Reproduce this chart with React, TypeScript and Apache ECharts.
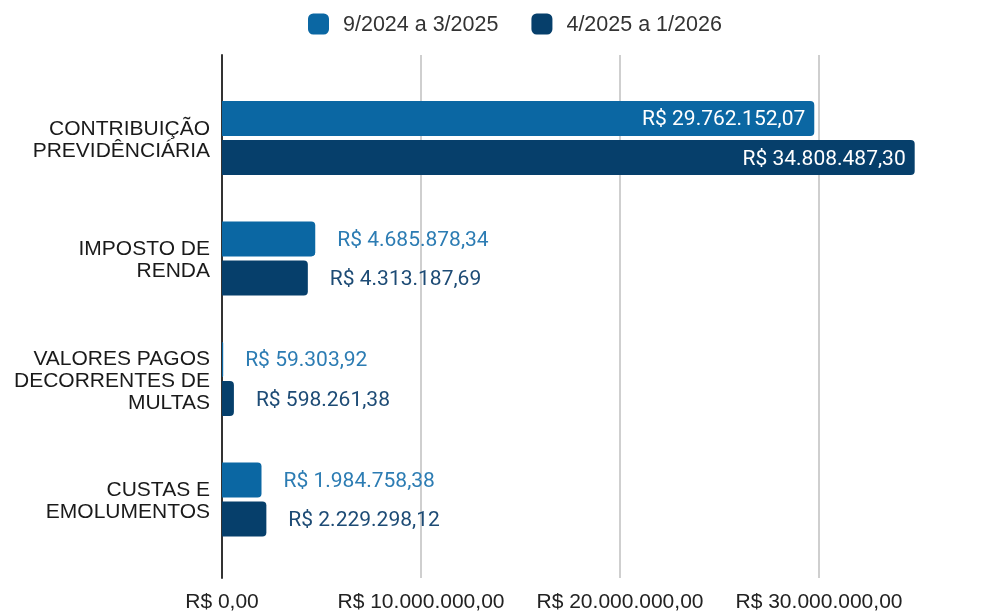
import React, { useEffect, useRef } from "react";
import * as echarts from "echarts";

const categories = [
  "CONTRIBUIÇÃO\nPREVIDÊNCIÁRIA",
  "IMPOSTO DE\nRENDA",
  "VALORES PAGOS\nDECORRENTES DE\nMULTAS",
  "CUSTAS E\nEMOLUMENTOS",
];
const seriesNames = ["9/2024 a 3/2025", "4/2025 a 1/2026"];
const period1 = [29762152.07, 4685878.34, 59303.92, 1984758.38];
const period2 = [34808487.3, 4313187.69, 598261.38, 2229298.12];
const axisMax = 40000000;
const axisInterval = 10000000;

function fmtBRL(v: number): string {
  const neg = v < 0;
  const fixed = Math.abs(v).toFixed(2);
  const [intPart, dec] = fixed.split(".");
  const withDots = intPart.replace(/\B(?=(\d{3})+(?!\d))/g, ".");
  return (neg ? "-" : "") + "R$ " + withDots + "," + dec;
}

const colors = ["#0b67a3", "#063f6b"];
const outsideLabelColors = ["#2c7cb3", "#1d4b75"];

export default function App() {
  const ref = useRef<HTMLDivElement>(null);
  useEffect(() => {
    if (!ref.current) return;
    const chart = echarts.init(ref.current, null, { renderer: "svg" });
    const makeData = (vals: number[], idx: number) =>
      vals.map((v) => {
        const inside = v > 10000000;
        return {
          value: v,
          label: inside
            ? {
                show: true,
                position: "insideRight",
                distance: 9,
                color: "#ffffff",
              }
            : {
                show: true,
                position: "right",
                distance: 22,
                color: outsideLabelColors[idx],
              },
        };
      });
    const sans = "'Liberation Sans', Arial, sans-serif";
    const labelStyle = {
      fontFamily: "Roboto, sans-serif",
      fontSize: 21,
      formatter: (p: any) => fmtBRL(p.value),
    };
    chart.setOption({
      animation: false,
      color: colors,
      legend: {
        left: 308,
        top: 13,
        padding: 0,
        itemWidth: 21,
        itemHeight: 21,
        itemGap: 33,
        icon: "roundRect",
        data: seriesNames,
        textStyle: {
          fontFamily: sans,
          fontSize: 21.5,
          color: "#333333",
          padding: [0, 0, 0, 9],
        },
      },
      grid: [
        { left: 222, right: 12, top: 77.75, bottom: 51.25, containLabel: false },
        { left: 222, right: 12, top: 55, bottom: 29, containLabel: false },
      ],
      xAxis: [
        {
          gridIndex: 0,
          type: "value",
          min: 0,
          max: axisMax,
          interval: axisInterval,
          axisLine: { show: false },
          axisTick: { show: false },
          axisLabel: { show: false },
          splitLine: { show: false },
        },
        {
          gridIndex: 1,
          type: "value",
          min: 0,
          max: axisMax,
          interval: axisInterval,
          axisLine: { show: false },
          axisTick: { show: false },
          axisLabel: {
            show: true,
            showMaxLabel: false,
            margin: 12,
            fontFamily: sans,
            fontSize: 21,
            color: "#222222",
            formatter: (v: number) => fmtBRL(v),
          },
          splitLine: { show: true, lineStyle: { color: "#cfcfcf", width: 2 } },
        },
      ],
      yAxis: [
        {
          gridIndex: 0,
          type: "category",
          inverse: true,
          data: categories,
          axisLine: { show: false },
          axisTick: { show: false },
          axisLabel: {
            margin: 12,
            fontFamily: sans,
            fontSize: 21,
            lineHeight: 22,
            color: "#1a1a1a",
            align: "right",
          },
        },
        {
          gridIndex: 1,
          type: "category",
          inverse: true,
          data: categories,
          axisLine: { show: true, lineStyle: { color: "#333333", width: 2 } },
          axisTick: { show: false },
          axisLabel: { show: false },
        },
      ],
      series: [
        {
          name: seriesNames[0],
          type: "bar",
          xAxisIndex: 0,
          yAxisIndex: 0,
          barWidth: 35,
          barGap: "12%",
          itemStyle: { color: colors[0], borderRadius: [0, 4, 4, 0] },
          label: labelStyle,
          data: makeData(period1, 0),
        },
        {
          name: seriesNames[1],
          type: "bar",
          xAxisIndex: 0,
          yAxisIndex: 0,
          barWidth: 35,
          barGap: "12%",
          itemStyle: { color: colors[1], borderRadius: [0, 4, 4, 0] },
          label: labelStyle,
          data: makeData(period2, 1),
        },
      ],
    });
    return () => chart.dispose();
  }, []);
  return (
    <div
      style={{
        position: "fixed",
        left: 0,
        top: 0,
        width: 1007,
        height: 611,
        overflow: "hidden",
      }}
    >
      <div ref={ref} style={{ width: 1030, height: 611 }} />
    </div>
  );
}
